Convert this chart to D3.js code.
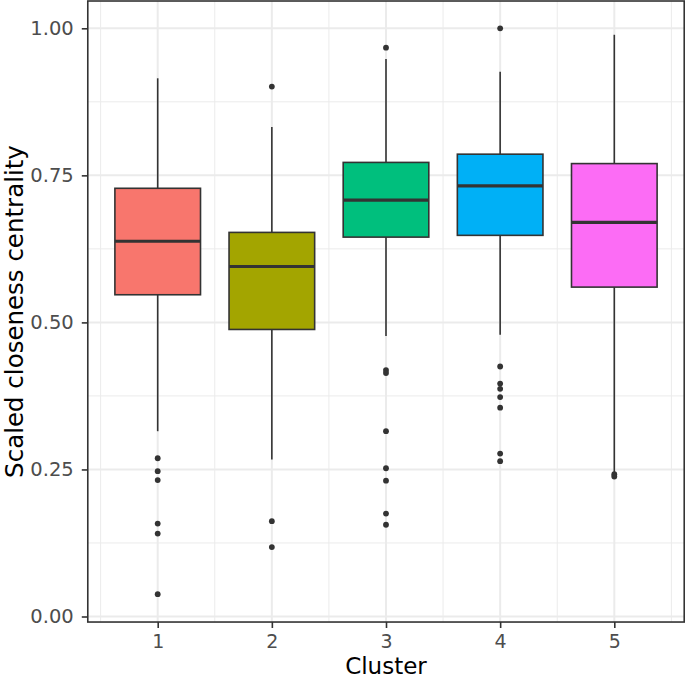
<!DOCTYPE html>
<html>
<head>
<meta charset="utf-8">
<script src="https://cdn.jsdelivr.net/npm/d3@7"></script>
<style>
  html, body { margin: 0; padding: 0; background: #fff; }
  svg { display: block; font-family: "DejaVu Sans", sans-serif; }
</style>
</head>
<body>
<svg id="chart" width="685" height="679"></svg>
<script>
// ---- data ----
const clusters     = [1, 2, 3, 4, 5];
const whiskerHigh  = [0.915, 0.832, 0.948, 0.926, 0.989];
const q3           = [0.728, 0.653, 0.772, 0.786, 0.770];
const medians      = [0.638, 0.595, 0.708, 0.732, 0.670];
const q1           = [0.547, 0.488, 0.645, 0.648, 0.560];
const whiskerLow   = [0.315, 0.267, 0.477, 0.479, 0.245];
const outliers1 = [0.269, 0.247, 0.232, 0.158, 0.141, 0.038];
const outliers2 = [0.901, 0.162, 0.118];
const outliers3 = [0.967, 0.419, 0.414, 0.315, 0.252, 0.231, 0.175, 0.156];
const outliers4 = [1.000, 0.425, 0.396, 0.387, 0.373, 0.355, 0.277, 0.264];
const outliers5 = [0.242, 0.238];
const outliers = [outliers1, outliers2, outliers3, outliers4, outliers5];
const fills = ["#F8766D", "#A3A500", "#00BF7D", "#00B0F6", "#FC6CF5"];
const yTicks = [0, 0.25, 0.5, 0.75, 1.0];
const yMinor = [0.125, 0.375, 0.625, 0.875];
const xMinor = [0.5, 1.5, 2.5, 3.5, 4.5, 5.5];
const xTitle = "Cluster";
const yTitle = "Scaled closeness centrality";

// ---- scales ----
const x = d3.scaleLinear().domain([1, 5]).range([157.7, 614.3]);
const y = d3.scaleLinear().domain([0, 1]).range([616.5, 28.3]);
const xLim = [0.3875, 5.6125];
const yLim = [-0.0094, 1.0464];
const boxW = 0.75; // in data units

const svg = d3.select("#chart");
const pL = x(xLim[0]), pR = x(xLim[1]), pT = y(yLim[1]), pB = y(yLim[0]);

// panel background
svg.append("rect").attr("x", pL).attr("y", pT).attr("width", pR - pL).attr("height", pB - pT)
  .attr("fill", "#fff");

const grid = svg.append("g");
// minor gridlines
grid.selectAll(".ymin").data(yMinor).join("line")
  .attr("x1", pL).attr("x2", pR).attr("y1", d => y(d)).attr("y2", d => y(d))
  .attr("stroke", "#EBEBEB").attr("stroke-width", 1);
grid.selectAll(".xmin").data(xMinor.filter(d => x(d) > pL && x(d) < pR)).join("line")
  .attr("y1", pT).attr("y2", pB).attr("x1", d => x(d)).attr("x2", d => x(d))
  .attr("stroke", "#EBEBEB").attr("stroke-width", 1);
// major gridlines
grid.selectAll(".ymaj").data(yTicks).join("line")
  .attr("x1", pL).attr("x2", pR).attr("y1", d => y(d)).attr("y2", d => y(d))
  .attr("stroke", "#EBEBEB").attr("stroke-width", 2);
grid.selectAll(".xmaj").data(clusters).join("line")
  .attr("y1", pT).attr("y2", pB).attr("x1", d => x(d)).attr("x2", d => x(d))
  .attr("stroke", "#EBEBEB").attr("stroke-width", 2);

// boxes
const data = clusters.map((c, i) => ({
  c, lo: whiskerLow[i], q1: q1[i], med: medians[i], q3: q3[i], hi: whiskerHigh[i],
  out: outliers[i], fill: fills[i]
}));
const g = svg.append("g");
data.forEach(d => {
  const cx = x(d.c);
  const x0 = x(d.c - boxW / 2), x1 = x(d.c + boxW / 2);
  g.append("line").attr("x1", cx).attr("x2", cx).attr("y1", y(d.hi)).attr("y2", y(d.q3))
    .attr("stroke", "#333").attr("stroke-width", 1.6);
  g.append("line").attr("x1", cx).attr("x2", cx).attr("y1", y(d.q1)).attr("y2", y(d.lo))
    .attr("stroke", "#333").attr("stroke-width", 1.6);
  g.append("rect").attr("x", x0).attr("y", y(d.q3)).attr("width", x1 - x0)
    .attr("height", y(d.q1) - y(d.q3)).attr("fill", d.fill)
    .attr("stroke", "#333").attr("stroke-width", 1.6);
  g.append("line").attr("x1", x0).attr("x2", x1).attr("y1", y(d.med)).attr("y2", y(d.med))
    .attr("stroke", "#333").attr("stroke-width", 3.2);
  g.selectAll(null).data(d.out).join("circle")
    .attr("cx", cx).attr("cy", v => y(v)).attr("r", 2.9).attr("fill", "#333");
});

// panel border
svg.append("rect").attr("x", pL).attr("y", pT).attr("width", pR - pL).attr("height", pB - pT)
  .attr("fill", "none").attr("stroke", "#333").attr("stroke-width", 1.6);

// axes
const yAxis = svg.append("g").attr("transform", `translate(${pL},0)`)
  .call(d3.axisLeft(y).tickValues(yTicks).tickFormat(d3.format(".2f")).tickSize(6).tickPadding(8));
const xAxis = svg.append("g").attr("transform", `translate(0,${pB})`)
  .call(d3.axisBottom(x).tickValues(clusters).tickFormat(d3.format("d")).tickSize(6).tickPadding(6));
yAxis.selectAll(".tick text").style("font-size", "19.5px");
xAxis.selectAll(".tick text").style("font-size", "19px");
[yAxis, xAxis].forEach(a => {
  a.select(".domain").remove();
  a.selectAll(".tick line").attr("stroke", "#333").attr("stroke-width", 1.6);
  a.selectAll(".tick text").attr("fill", "#4D4D4D")
    .style("font-family", "DejaVu Sans, sans-serif");
});

// titles
svg.append("text").attr("x", (pL + pR) / 2).attr("y", 673.5)
  .attr("text-anchor", "middle").style("font-size", "23px").attr("fill", "#000").text(xTitle);
svg.append("text").attr("transform", `translate(23,${(pT + pB) / 2}) rotate(-90)`)
  .attr("text-anchor", "middle").style("font-size", "24.5px").attr("fill", "#000").text(yTitle);
</script>
</body>
</html>
